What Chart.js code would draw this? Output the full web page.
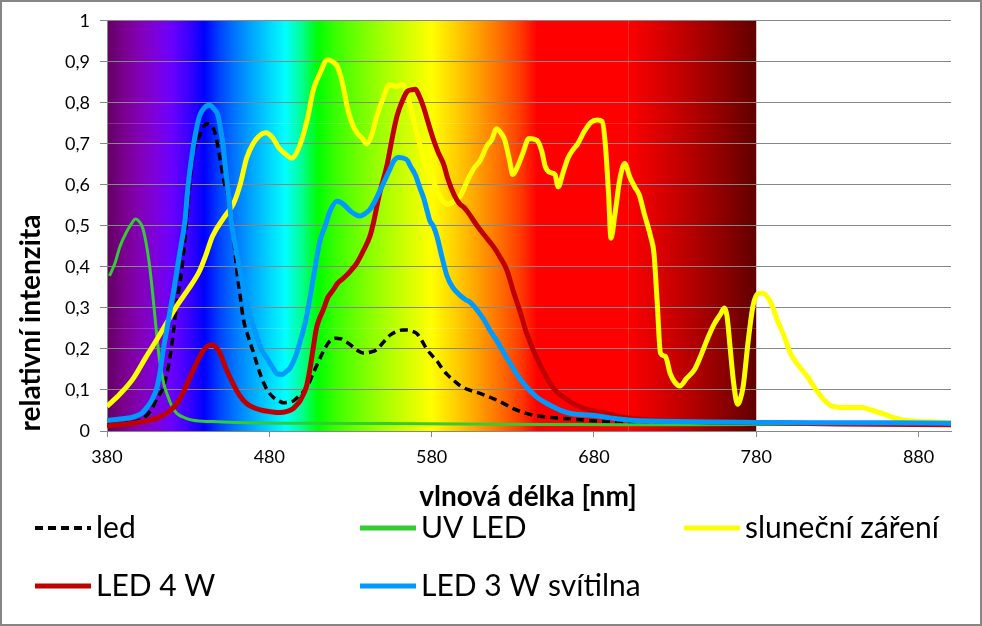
<!DOCTYPE html>
<html>
<head>
<meta charset="utf-8">
<script src="https://cdn.jsdelivr.net/npm/chart.js@4.4.1/dist/chart.umd.min.js"></script>
<style>
  body { margin: 0; background: #fff; }
  #wrap { position: relative; width: 982px; height: 626px; }
</style>
</head>
<body>
<div id="wrap"><canvas id="spectrumChart"></canvas></div>
<script>
// axis ticks
const xTicks = [380, 480, 580, 680, 780, 880];
const yTicks = [0, 0.1, 0.2, 0.3, 0.4, 0.5, 0.6, 0.7, 0.8, 0.9, 1];

// "led" (black dashed)
const ledNm = [380, 390, 400, 405, 408, 411, 414.5, 418, 420.7, 423, 426, 429, 431, 433, 437, 440, 442, 444, 446.5, 449.6, 452, 455.7, 458, 460, 462, 464, 467, 470, 473, 476, 479, 482.5, 486, 488.7, 492, 495, 499, 503, 507, 511, 514, 517.5, 521, 524, 527, 530, 534, 538, 542, 546, 550, 554.5, 558, 562, 565, 568, 571, 574, 577, 580, 583.4, 586, 589.5, 594, 597.7, 603, 608, 613, 618, 624, 630, 636, 643, 651, 660, 676, 696, 720, 780, 900];
const ledVal = [0.015, 0.018, 0.026, 0.04, 0.057, 0.08, 0.105, 0.16, 0.234, 0.31, 0.39, 0.512, 0.6, 0.672, 0.72, 0.745, 0.749, 0.745, 0.727, 0.665, 0.61, 0.553, 0.47, 0.39, 0.33, 0.273, 0.23, 0.194, 0.155, 0.122, 0.098, 0.082, 0.073, 0.069, 0.07, 0.074, 0.088, 0.105, 0.14, 0.175, 0.2, 0.22, 0.226, 0.225, 0.218, 0.21, 0.197, 0.19, 0.192, 0.198, 0.215, 0.234, 0.242, 0.246, 0.246, 0.243, 0.237, 0.22, 0.2, 0.185, 0.17, 0.155, 0.138, 0.122, 0.11, 0.1, 0.094, 0.087, 0.079, 0.068, 0.055, 0.046, 0.038, 0.034, 0.031, 0.026, 0.022, 0.02, 0.018, 0.016];

// "UV LED" (green)
const uvNm = [381.5, 385, 388, 392, 395, 397.5, 400, 402, 404, 406, 408, 409.5, 411, 412.5, 415, 417, 420, 423, 428, 433, 445, 460, 500, 550, 600, 650, 700, 780, 850, 900];
const uvVal = [0.378, 0.41, 0.45, 0.485, 0.505, 0.517, 0.51, 0.495, 0.46, 0.41, 0.34, 0.28, 0.22, 0.17, 0.115, 0.09, 0.06, 0.043, 0.032, 0.026, 0.023, 0.021, 0.019, 0.018, 0.017, 0.016, 0.015, 0.016, 0.016, 0.016];

// "sluneční záření" (yellow)
const sunNm = [380, 388, 396, 404, 411, 417, 423, 430, 437, 441, 445, 452, 458, 462, 466, 470, 474, 478, 482, 486, 490, 494, 497, 500, 504, 507, 511, 516, 519, 522, 525, 528, 531, 534, 537, 540, 543, 546, 550, 554, 558, 562, 565, 567, 570, 573, 576, 579, 582, 586, 590, 594, 598, 602, 606, 610, 614, 617, 620, 622, 625, 628, 630, 633, 636, 640, 645, 648, 650, 653, 656, 658, 661, 664, 667, 670, 674, 678, 682, 685, 687, 689, 690.5, 693, 696, 699, 702, 705, 708, 711, 715, 717, 719, 721, 724, 727, 730, 733, 737, 742, 746, 750, 754, 758, 760.5, 762, 764, 766, 768.5, 770, 772, 775, 778, 781, 784, 789, 793, 797, 801, 806, 812, 817, 822, 827, 835, 845, 850, 855, 861, 866, 871, 880, 890, 900];
const sunVal = [0.06, 0.09, 0.127, 0.18, 0.225, 0.265, 0.305, 0.345, 0.39, 0.43, 0.475, 0.52, 0.555, 0.6, 0.665, 0.7, 0.72, 0.727, 0.715, 0.69, 0.675, 0.665, 0.68, 0.71, 0.77, 0.83, 0.87, 0.905, 0.9, 0.888, 0.85, 0.79, 0.75, 0.727, 0.715, 0.7, 0.72, 0.765, 0.81, 0.844, 0.84, 0.845, 0.82, 0.79, 0.74, 0.696, 0.65, 0.632, 0.6, 0.565, 0.553, 0.56, 0.575, 0.61, 0.64, 0.66, 0.695, 0.71, 0.737, 0.73, 0.71, 0.66, 0.625, 0.645, 0.675, 0.713, 0.708, 0.68, 0.645, 0.63, 0.625, 0.595, 0.63, 0.665, 0.685, 0.7, 0.73, 0.752, 0.758, 0.755, 0.7, 0.58, 0.47, 0.53, 0.615, 0.652, 0.62, 0.596, 0.575, 0.53, 0.473, 0.433, 0.313, 0.19, 0.182, 0.14, 0.118, 0.11, 0.128, 0.15, 0.185, 0.225, 0.26, 0.285, 0.3, 0.28, 0.2, 0.12, 0.065, 0.075, 0.11, 0.218, 0.305, 0.335, 0.336, 0.313, 0.27, 0.233, 0.19, 0.16, 0.13, 0.1, 0.075, 0.06, 0.057, 0.057, 0.052, 0.046, 0.038, 0.031, 0.026, 0.023, 0.022, 0.021];

// "LED 4 W" (red)
const led4Nm = [380, 388, 396, 406, 414.5, 419, 423, 427, 431, 435, 439, 442, 445, 447, 449.6, 453, 457.7, 462, 466, 471, 476, 481, 486.6, 491, 494.8, 497, 499, 503, 505, 507, 509, 511, 513.4, 516, 519.6, 522, 525.8, 530, 534, 538, 542, 544, 548, 552.5, 556, 558.7, 562, 565, 568, 570, 572, 575, 578, 581, 584, 587.6, 590, 593.7, 597, 600, 603, 606, 610, 614, 618, 622, 626.6, 630, 634.7, 638, 643, 647, 651, 656, 661.5, 667, 674, 681, 688, 695, 702.8, 720, 750, 780, 830, 900];
const led4Val = [0.013, 0.015, 0.019, 0.026, 0.038, 0.05, 0.067, 0.095, 0.13, 0.165, 0.194, 0.207, 0.21, 0.205, 0.19, 0.155, 0.115, 0.085, 0.067, 0.056, 0.05, 0.047, 0.045, 0.048, 0.055, 0.064, 0.074, 0.11, 0.15, 0.2, 0.25, 0.275, 0.297, 0.325, 0.345, 0.36, 0.373, 0.39, 0.41, 0.44, 0.475, 0.505, 0.58, 0.648, 0.72, 0.768, 0.805, 0.828, 0.832, 0.833, 0.82, 0.79, 0.75, 0.712, 0.68, 0.648, 0.615, 0.577, 0.555, 0.545, 0.53, 0.512, 0.49, 0.47, 0.45, 0.425, 0.39, 0.345, 0.289, 0.245, 0.194, 0.16, 0.13, 0.1, 0.082, 0.067, 0.055, 0.048, 0.043, 0.036, 0.031, 0.026, 0.022, 0.02, 0.017, 0.015];

// "LED 3 W svítilna" (blue)
const led3Nm = [380, 388, 396, 401, 404.5, 408, 410.7, 412.5, 414.5, 416.5, 418.7, 421, 423, 425.5, 428, 430, 433, 435, 437, 440, 443.4, 446, 448.5, 450, 451.6, 453, 454.7, 457, 460, 463, 466, 469, 472, 475, 478.5, 482, 485, 488, 490.5, 492.7, 496, 499, 503, 507, 511, 514.4, 517.5, 521.7, 525, 530, 533, 536, 539, 542, 545, 548, 551, 554.5, 557, 559.6, 562, 565, 567, 570, 573, 575, 577, 579, 581, 583.4, 586, 589.5, 593, 597.7, 601, 604, 608, 612, 616, 620.5, 624.5, 628.7, 633, 639, 645, 651, 657, 663.5, 671, 680, 690, 702.8, 720, 750, 780, 820, 860, 900];
const led3Val = [0.026, 0.029, 0.034, 0.042, 0.057, 0.078, 0.105, 0.14, 0.194, 0.24, 0.29, 0.34, 0.39, 0.45, 0.512, 0.6, 0.69, 0.735, 0.768, 0.788, 0.794, 0.785, 0.768, 0.735, 0.696, 0.64, 0.584, 0.5, 0.433, 0.37, 0.313, 0.27, 0.234, 0.2, 0.177, 0.155, 0.139, 0.138, 0.145, 0.153, 0.18, 0.218, 0.28, 0.37, 0.46, 0.5, 0.537, 0.56, 0.555, 0.536, 0.528, 0.524, 0.53, 0.54, 0.56, 0.584, 0.61, 0.64, 0.66, 0.667, 0.666, 0.66, 0.645, 0.624, 0.59, 0.569, 0.54, 0.512, 0.5, 0.473, 0.43, 0.378, 0.35, 0.33, 0.32, 0.313, 0.295, 0.273, 0.245, 0.218, 0.19, 0.163, 0.135, 0.105, 0.082, 0.067, 0.055, 0.045, 0.04, 0.038, 0.032, 0.026, 0.024, 0.022, 0.021, 0.02, 0.02, 0.019];

const gridGray = "#878787";
const fontFamily = "Lato, 'Open Sans', sans-serif";

// colour stops of the visible spectrum behind the plot (nm, colour)
const spectrumStops = [
  [380, "#610061"], [390, "#7a008c"], [400, "#8200b5"], [410, "#7e00db"],
  [420, "#6a00ff"], [430, "#3d00ff"], [440, "#0000ff"], [450, "#0046ff"],
  [460, "#007bff"], [470, "#00a9ff"], [480, "#00d5ff"], [490, "#00ffff"],
  [500, "#00ff92"], [510, "#00ff00"], [520, "#36ff00"], [535, "#70ff00"],
  [550, "#a3ff00"], [565, "#d2ff00"], [580, "#ffff00"], [595, "#ffcf00"],
  [610, "#ff9b00"], [625, "#ff6300"], [635, "#ff3900"], [645, "#ff0000"],
  [700, "#ff0000"], [720, "#db0000"], [740, "#b50000"], [760, "#8c0000"],
  [780, "#610000"]
];

function toPoints(xs, ys) {
  return xs.map((x, i) => ({ x: x, y: ys[i] }));
}

const spectrumBackground = {
  id: "spectrumBackground",
  beforeDraw(chart) {
    const { ctx, chartArea, scales } = chart;
    const x0 = scales.x.getPixelForValue(380);
    const x1 = scales.x.getPixelForValue(780);
    const grad = ctx.createLinearGradient(x0, 0, x1, 0);
    spectrumStops.forEach(s => grad.addColorStop((s[0] - 380) / 400, s[1]));
    ctx.save();
    ctx.fillStyle = grad;
    ctx.fillRect(x0, chartArea.top, x1 - x0, chartArea.bottom - chartArea.top);
    // faint lines that belong to the spectrum picture
    ctx.strokeStyle = "rgba(255,255,255,0.18)";
    ctx.lineWidth = 1;
    [0.25, 0.75].forEach(v => {
      const y = Math.round(scales.y.getPixelForValue(v)) + 0.5;
      ctx.beginPath();
      ctx.moveTo(x0, y);
      ctx.lineTo(x1, y);
      ctx.stroke();
    });
    const xv = Math.round(scales.x.getPixelForValue(701)) + 0.5;
    ctx.beginPath();
    ctx.moveTo(xv, chartArea.top);
    ctx.lineTo(xv, chartArea.bottom);
    ctx.stroke();
    ctx.restore();
  }
};

const legendSlots = [
  { x: 35, y: 528 }, { x: 360, y: 528 }, { x: 684, y: 528 },
  { x: 35, y: 586 }, { x: 360, y: 586 }
];

const labelsAndLegend = {
  id: "labelsAndLegend",
  afterDraw(chart) {
    const ctx = chart.ctx;
    ctx.save();
    ctx.fillStyle = "#000";
    ctx.textBaseline = "middle";

    ctx.font = "bold 28px " + fontFamily;
    ctx.textAlign = "center";
    ctx.fillText("vlnová délka [nm]", 528, 497);

    ctx.save();
    ctx.translate(31, 323);
    ctx.rotate(-Math.PI / 2);
    ctx.fillText("relativní intenzita", 0, 0);
    ctx.restore();

    ctx.textAlign = "left";
    ctx.font = "30px " + fontFamily;
    chart.data.datasets.forEach((ds, i) => {
      const slot = legendSlots[i];
      ctx.strokeStyle = ds.borderColor;
      ctx.lineWidth = ds.borderDash ? 4 : 5;
      ctx.setLineDash(ds.borderDash ? [8, 5] : []);
      ctx.lineCap = "butt";
      ctx.beginPath();
      ctx.moveTo(slot.x, slot.y);
      ctx.lineTo(slot.x + 56, slot.y);
      ctx.stroke();
      ctx.setLineDash([]);
      ctx.fillText(ds.label, slot.x + 61, slot.y);
    });

    ctx.strokeStyle = "#868686";
    ctx.lineWidth = 2;
    ctx.strokeRect(1, 1, 980, 624);
    ctx.restore();
  }
};

new Chart(document.getElementById("spectrumChart"), {
  type: "line",
  data: {
    datasets: [
      {
        label: "led",
        data: toPoints(ledNm, ledVal),
        borderColor: "#000000",
        borderWidth: 3.5,
        borderDash: [8, 5],
        order: 5
      },
      {
        label: "UV LED",
        data: toPoints(uvNm, uvVal),
        borderColor: "#33cc33",
        borderWidth: 3,
        order: 4
      },
      {
        label: "sluneční záření",
        data: toPoints(sunNm, sunVal),
        borderColor: "#ffff00",
        borderWidth: 5,
        order: 3
      },
      {
        label: "LED 4 W",
        data: toPoints(led4Nm, led4Val),
        borderColor: "#c00000",
        borderWidth: 5,
        order: 2
      },
      {
        label: "LED 3 W svítilna",
        data: toPoints(led3Nm, led3Val),
        borderColor: "#0099ff",
        borderWidth: 5,
        order: 1
      }
    ]
  },
  options: {
    responsive: true,
    maintainAspectRatio: false,
    animation: false,
    layout: { padding: { top: 13, right: 31, left: 0, bottom: 0 } },
    elements: {
      point: { radius: 0 },
      line: { cubicInterpolationMode: "monotone", fill: false }
    },
    plugins: {
      legend: { display: false },
      tooltip: { enabled: false }
    },
    scales: {
      x: {
        type: "linear",
        min: 380,
        max: 900,
        afterBuildTicks: scale => { scale.ticks = xTicks.map(v => ({ value: v })); },
        afterFit: scale => { scale.height = 195; },
        grid: { drawOnChartArea: false, color: gridGray, tickLength: 6 },
        border: { color: gridGray },
        ticks: {
          color: "#000",
          font: { family: fontFamily, size: 18 },
          padding: 9,
          maxRotation: 0
        }
      },
      y: {
        min: 0,
        max: 1,
        afterBuildTicks: scale => { scale.ticks = yTicks.map(v => ({ value: v })); },
        afterFit: scale => { scale.width = 107; },
        grid: { color: gridGray, tickLength: 7 },
        border: { color: gridGray },
        ticks: {
          color: "#000",
          font: { family: fontFamily, size: 18 },
          padding: 10,
          callback: v => String(Math.round(v * 10) / 10).replace(".", ",")
        }
      }
    }
  },
  plugins: [spectrumBackground, labelsAndLegend]
});
</script>
</body>
</html>
